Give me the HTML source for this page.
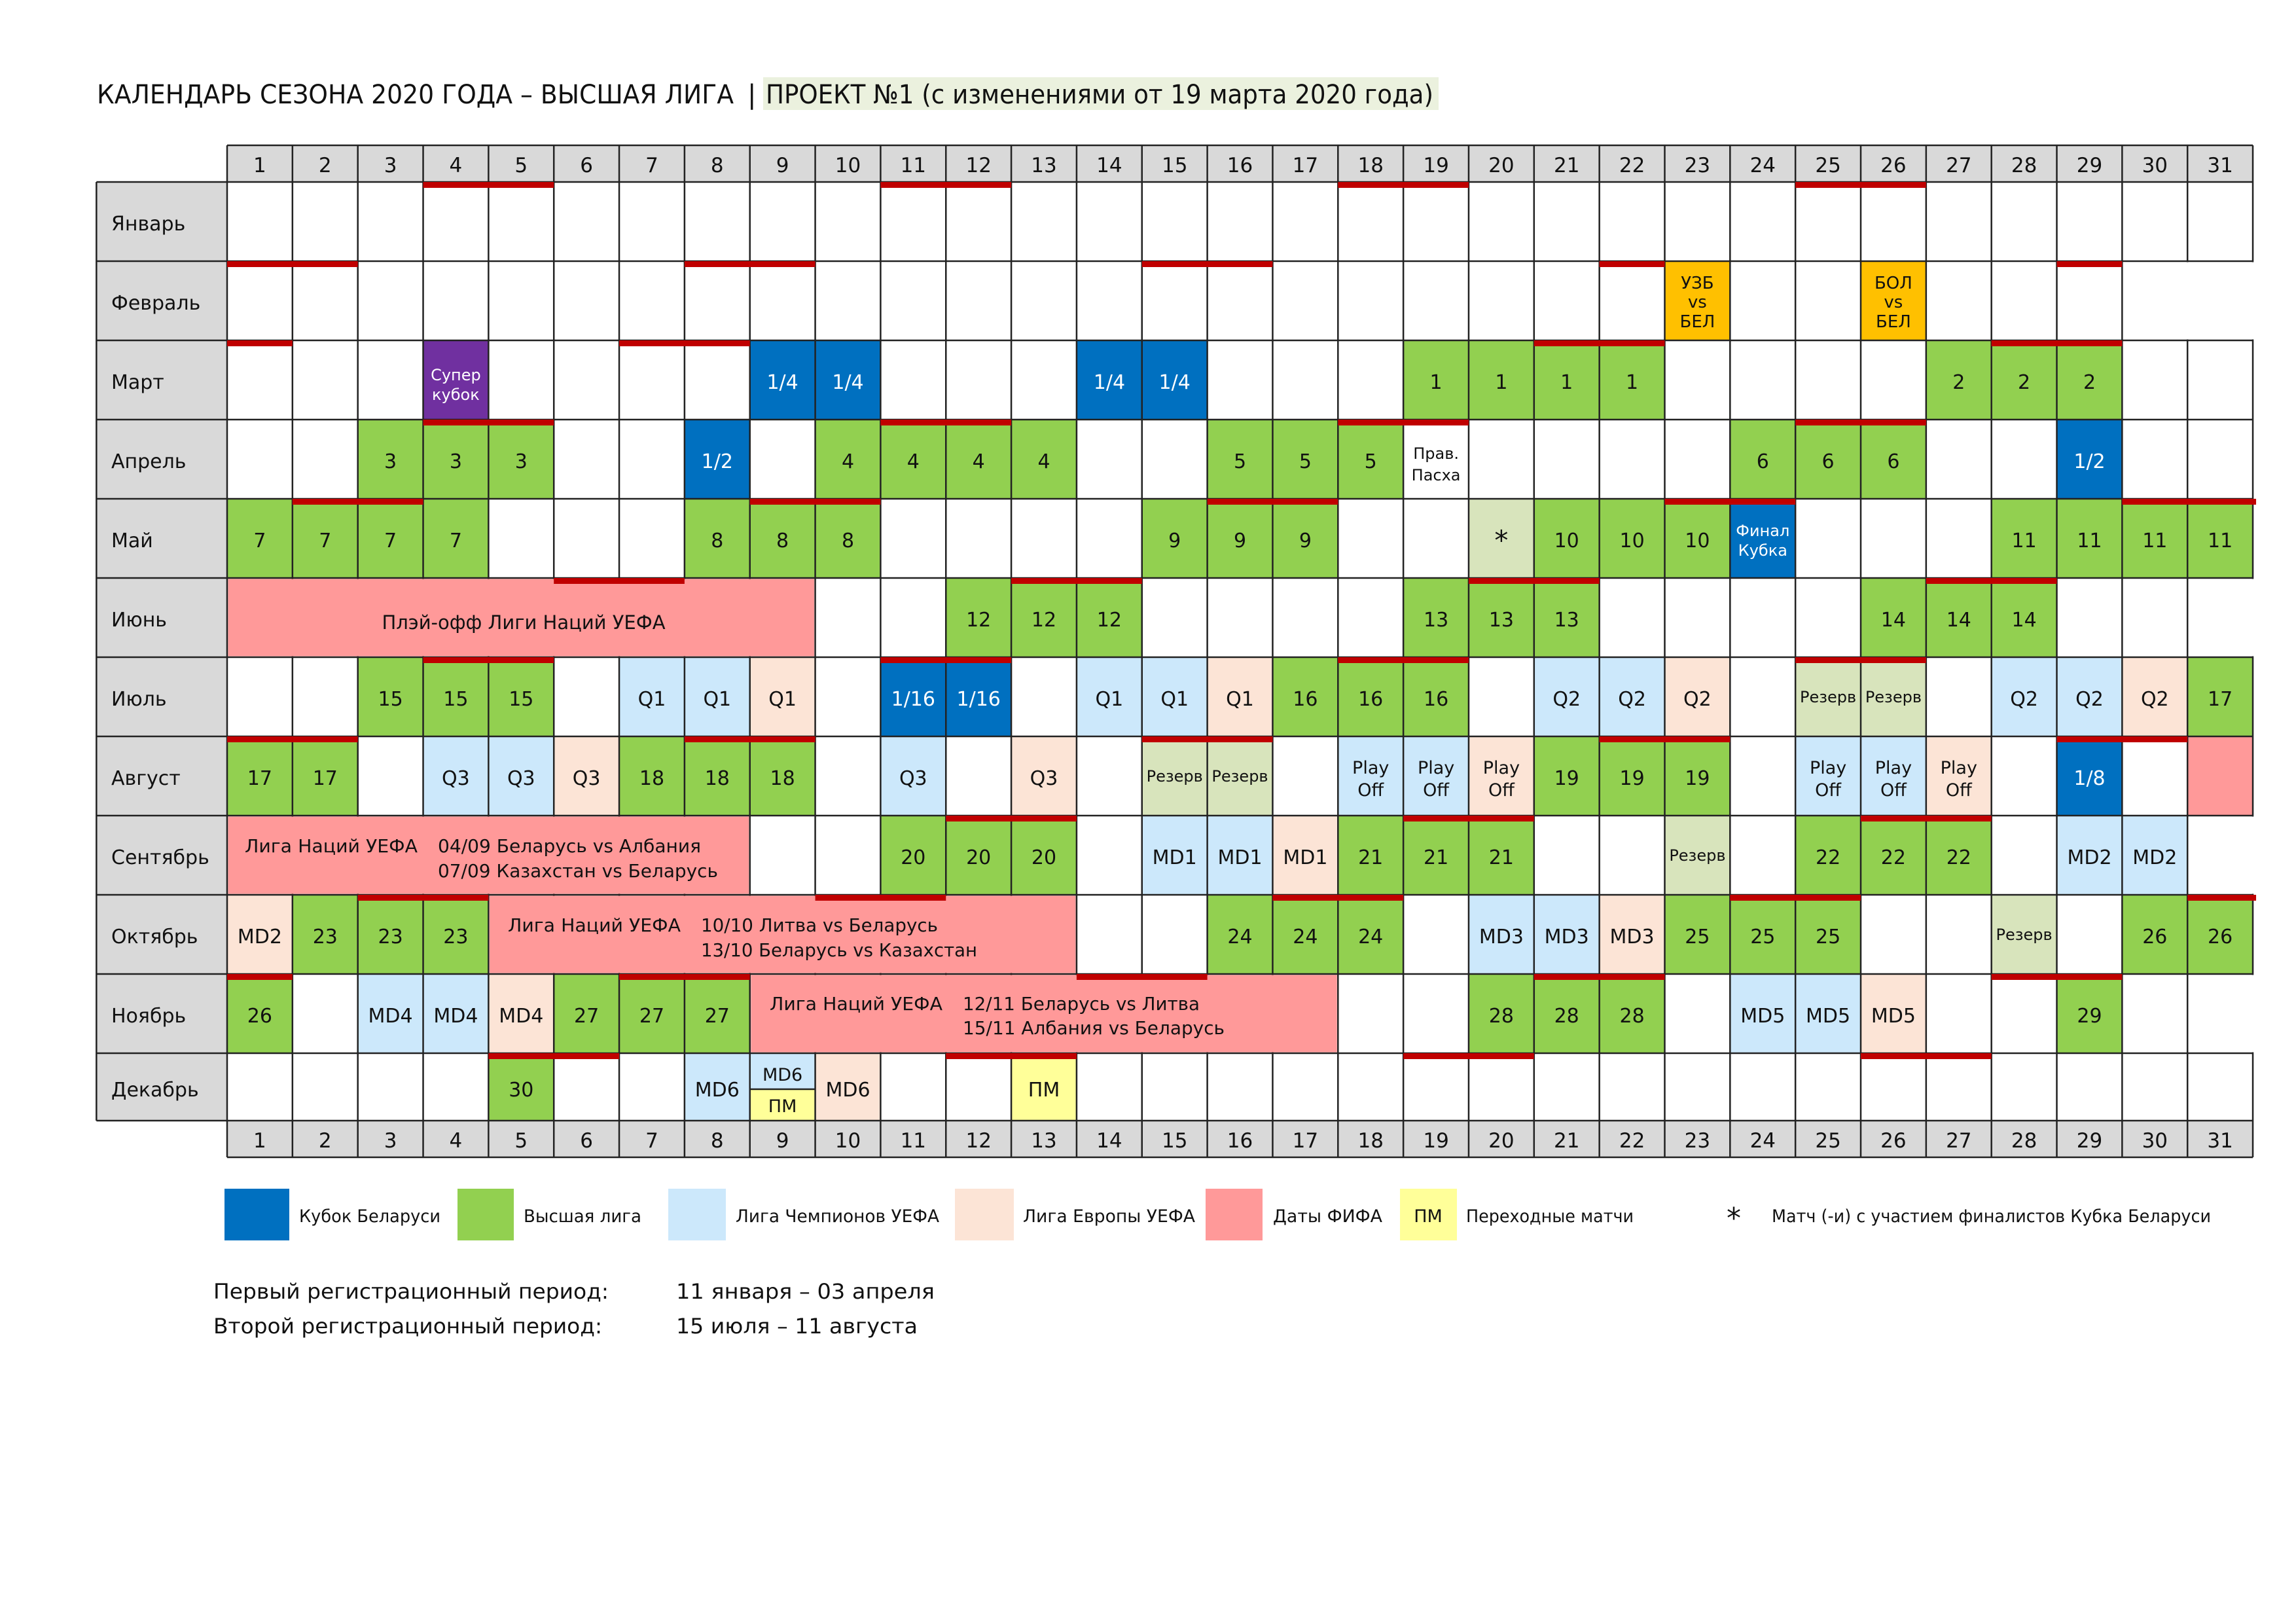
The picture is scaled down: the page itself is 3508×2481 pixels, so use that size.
<!DOCTYPE html>
<html><head><meta charset="utf-8">
<style>
html,body{margin:0;padding:0;background:#fff;}
svg{display:block;}
text{font-family:"DejaVu Sans","Liberation Sans",sans-serif;fill:#111;}
.c{font-size:30px;text-anchor:middle;}
.w{fill:#fff;}
.h{font-size:31px;text-anchor:middle;}
.m{font-size:30px;}
.s{font-size:24px;text-anchor:middle;}
.p{font-size:27px;text-anchor:middle;}
.n{font-size:28px;}
.lg{font-size:27px;}
.G{fill:#92D050}.B{fill:#0070C0}.L{fill:#CCE8FB}.P{fill:#FCE4D6}.K{fill:#FF9999}.Y{fill:#FFFF99}.O{fill:#FFC000}.V{fill:#7030A0}.R{fill:#D8E4BC}.Wt{fill:#fff}.rb{fill:#C00000}
</style></head>
<body>
<svg width="3508" height="2481" viewBox="0 0 3508 2481" xmlns="http://www.w3.org/2000/svg">
<rect width="3508" height="2481" fill="#fff"/>
<!-- title -->
<rect x="1166" y="118" width="1032" height="50" fill="#EBF1DE"/>
<text x="148" y="158" font-size="40" textLength="973" lengthAdjust="spacingAndGlyphs">КАЛЕНДАРЬ СЕЗОНА 2020 ГОДА – ВЫСШАЯ ЛИГА</text>
<text x="1142" y="158" font-size="40">|</text>
<text x="1170" y="158" font-size="40" textLength="1020" lengthAdjust="spacingAndGlyphs">ПРОЕКТ №1 (с изменениями от 19 марта 2020 года)</text>

<!-- grey header areas -->
<rect x="347" y="222" width="3095" height="56" fill="#D9D9D9"/>
<rect x="347" y="1712" width="3095" height="56" fill="#D9D9D9"/>
<rect x="147" y="278" width="200" height="1434" fill="#D9D9D9"/>

<g transform="translate(347 0) scale(99.84 1)">
<!-- Feb -->
<rect class="O" x="22" y="399" width="1" height="121"/>
<rect class="O" x="25" y="399" width="1" height="121"/>
<!-- Mar -->
<rect class="V" x="3" y="520" width="1" height="121"/>
<rect class="B" x="8" y="520" width="2" height="121"/>
<rect class="B" x="13" y="520" width="2" height="121"/>
<rect class="G" x="18" y="520" width="4" height="121"/>
<rect class="G" x="26" y="520" width="3" height="121"/>
<!-- Apr -->
<rect class="G" x="2" y="641" width="3" height="121"/>
<rect class="B" x="7" y="641" width="1" height="121"/>
<rect class="G" x="9" y="641" width="4" height="121"/>
<rect class="G" x="15" y="641" width="3" height="121"/>
<rect class="G" x="23" y="641" width="3" height="121"/>
<rect class="B" x="28" y="641" width="1" height="121"/>
<!-- May -->
<rect class="G" x="0" y="762" width="4" height="121"/>
<rect class="G" x="7" y="762" width="3" height="121"/>
<rect class="G" x="14" y="762" width="3" height="121"/>
<rect class="R" x="19" y="762" width="1" height="121"/>
<rect class="G" x="20" y="762" width="3" height="121"/>
<rect class="B" x="23" y="762" width="1" height="121"/>
<rect class="G" x="27" y="762" width="4" height="121"/>
<!-- Jun -->
<rect class="G" x="11" y="883" width="3" height="121"/>
<rect class="G" x="18" y="883" width="3" height="121"/>
<rect class="G" x="25" y="883" width="3" height="121"/>
<!-- Jul -->
<rect class="G" x="2" y="1004" width="3" height="121"/>
<rect class="L" x="6" y="1004" width="2" height="121"/>
<rect class="P" x="8" y="1004" width="1" height="121"/>
<rect class="B" x="10" y="1004" width="2" height="121"/>
<rect class="L" x="13" y="1004" width="2" height="121"/>
<rect class="P" x="15" y="1004" width="1" height="121"/>
<rect class="G" x="16" y="1004" width="3" height="121"/>
<rect class="L" x="20" y="1004" width="2" height="121"/>
<rect class="P" x="22" y="1004" width="1" height="121"/>
<rect class="R" x="24" y="1004" width="2" height="121"/>
<rect class="L" x="27" y="1004" width="2" height="121"/>
<rect class="P" x="29" y="1004" width="1" height="121"/>
<rect class="G" x="30" y="1004" width="1" height="121"/>
<!-- Aug -->
<rect class="G" x="0" y="1125" width="2" height="121"/>
<rect class="L" x="3" y="1125" width="2" height="121"/>
<rect class="P" x="5" y="1125" width="1" height="121"/>
<rect class="G" x="6" y="1125" width="3" height="121"/>
<rect class="L" x="10" y="1125" width="1" height="121"/>
<rect class="P" x="12" y="1125" width="1" height="121"/>
<rect class="R" x="14" y="1125" width="2" height="121"/>
<rect class="L" x="17" y="1125" width="2" height="121"/>
<rect class="P" x="19" y="1125" width="1" height="121"/>
<rect class="G" x="20" y="1125" width="3" height="121"/>
<rect class="L" x="24" y="1125" width="2" height="121"/>
<rect class="P" x="26" y="1125" width="1" height="121"/>
<rect class="B" x="28" y="1125" width="1" height="121"/>
<rect class="K" x="30" y="1125" width="1" height="121"/>
<!-- Sep -->
<rect class="G" x="10" y="1246" width="3" height="121"/>
<rect class="L" x="14" y="1246" width="2" height="121"/>
<rect class="P" x="16" y="1246" width="1" height="121"/>
<rect class="G" x="17" y="1246" width="3" height="121"/>
<rect class="R" x="22" y="1246" width="1" height="121"/>
<rect class="G" x="24" y="1246" width="3" height="121"/>
<rect class="L" x="28" y="1246" width="2" height="121"/>
<!-- Oct -->
<rect class="P" x="0" y="1367" width="1" height="121"/>
<rect class="G" x="1" y="1367" width="3" height="121"/>
<rect class="G" x="15" y="1367" width="3" height="121"/>
<rect class="L" x="19" y="1367" width="2" height="121"/>
<rect class="P" x="21" y="1367" width="1" height="121"/>
<rect class="G" x="22" y="1367" width="3" height="121"/>
<rect class="R" x="27" y="1367" width="1" height="121"/>
<rect class="G" x="29" y="1367" width="2" height="121"/>
<!-- Nov -->
<rect class="G" x="0" y="1488" width="1" height="121"/>
<rect class="L" x="2" y="1488" width="2" height="121"/>
<rect class="P" x="4" y="1488" width="1" height="121"/>
<rect class="G" x="5" y="1488" width="3" height="121"/>
<rect class="G" x="19" y="1488" width="3" height="121"/>
<rect class="L" x="23" y="1488" width="2" height="121"/>
<rect class="P" x="25" y="1488" width="1" height="121"/>
<rect class="G" x="28" y="1488" width="1" height="121"/>
<!-- Dec -->
<rect class="G" x="4" y="1609" width="1" height="103"/>
<rect class="L" x="7" y="1609" width="1" height="103"/>
<rect class="L" x="8" y="1609" width="1" height="55"/>
<rect class="Y" x="8" y="1664" width="1" height="48"/>
<rect class="P" x="9" y="1609" width="1" height="103"/>
<rect class="Y" x="12" y="1609" width="1" height="103"/>

<!-- grid lines -->
<path vector-effect="non-scaling-stroke" stroke="#222" stroke-width="2.5" fill="none" d="M0 222V1768M1 222V1768M2 222V1768M3 222V1768M4 222V1768M5 222V1768M6 222V1768M7 222V1768M8 222V1768M9 222V1768M10 222V1768M11 222V1768M12 222V1768M13 222V1768M14 222V1768M15 222V1768M16 222V1768M17 222V1768M18 222V1768M19 222V1768M20 222V1768M21 222V1768M22 222V1768M23 222V1768M24 222V1768M25 222V1768M26 222V1768M27 222V1768M28 222V1768M29 222V1768M30 222V1768M31 222V1768M-2 278V1712M0 222H31M-2 278H31M-2 399H31M-2 520H31M-2 641H31M-2 762H31M-2 883H31M-2 1004H31M-2 1125H31M-2 1246H31M-2 1367H31M-2 1488H31M-2 1609H31M-2 1712H31M0 1768H31M8 1664H9"/>

<!-- merged pink overlays -->
<rect class="K" x="0.015" y="884.5" width="8.97" height="118"/>
<rect class="K" x="0.015" y="1247.5" width="7.97" height="118"/>
<rect class="K" x="4.015" y="1368.5" width="8.97" height="118"/>
<rect class="K" x="8.015" y="1489.5" width="8.97" height="118"/>
<!-- missing days -->
<rect class="Wt" x="29.015" y="400.5" width="2.1" height="118"/>
<rect class="Wt" x="30.015" y="884.5" width="1.1" height="118"/>
<rect class="Wt" x="30.015" y="1247.5" width="1.1" height="118"/>
<rect class="Wt" x="30.015" y="1489.5" width="1.1" height="118"/>

<!-- weekend red bars -->
<g class="rb">
<rect x="3" y="278" width="2" height="9"/><rect x="10" y="278" width="2" height="9"/><rect x="17" y="278" width="2" height="9"/><rect x="24" y="278" width="2" height="9"/>
<rect x="0" y="399" width="2" height="9"/><rect x="7" y="399" width="2" height="9"/><rect x="14" y="399" width="2" height="9"/><rect x="21" y="399" width="1" height="9"/><rect x="28" y="399" width="1" height="9"/>
<rect x="0" y="520" width="1" height="9"/><rect x="6" y="520" width="2" height="9"/><rect x="20" y="520" width="2" height="9"/><rect x="27" y="520" width="2" height="9"/>
<rect x="3" y="641" width="2" height="9"/><rect x="10" y="641" width="2" height="9"/><rect x="17" y="641" width="2" height="9"/><rect x="24" y="641" width="2" height="9"/>
<rect x="1" y="762" width="2" height="9"/><rect x="8" y="762" width="2" height="9"/><rect x="15" y="762" width="2" height="9"/><rect x="22" y="762" width="2" height="9"/><rect x="29" y="762" width="2.05" height="9"/>
<rect x="5" y="883" width="2" height="9"/><rect x="12" y="883" width="2" height="9"/><rect x="19" y="883" width="2" height="9"/><rect x="26" y="883" width="2" height="9"/>
<rect x="3" y="1004" width="2" height="9"/><rect x="10" y="1004" width="2" height="9"/><rect x="17" y="1004" width="2" height="9"/><rect x="24" y="1004" width="2" height="9"/>
<rect x="0" y="1125" width="2" height="9"/><rect x="7" y="1125" width="2" height="9"/><rect x="14" y="1125" width="2" height="9"/><rect x="21" y="1125" width="2" height="9"/><rect x="28" y="1125" width="2" height="9"/>
<rect x="11" y="1246" width="2" height="9"/><rect x="18" y="1246" width="2" height="9"/><rect x="25" y="1246" width="2" height="9"/>
<rect x="2" y="1367" width="2" height="9"/><rect x="9" y="1367" width="2" height="9"/><rect x="16" y="1367" width="2" height="9"/><rect x="23" y="1367" width="2" height="9"/><rect x="30" y="1367" width="1.05" height="9"/>
<rect x="0" y="1488" width="1" height="9"/><rect x="6" y="1488" width="2" height="9"/><rect x="13" y="1488" width="2" height="9"/><rect x="20" y="1488" width="2" height="9"/><rect x="27" y="1488" width="2" height="9"/>
<rect x="4" y="1609" width="2" height="9"/><rect x="11" y="1609" width="2" height="9"/><rect x="18" y="1609" width="2" height="9"/><rect x="25" y="1609" width="2" height="9"/>
</g>
</g>

<!-- header numbers -->
<g class="h">
<text x="396.9" y="263">1</text><text x="496.8" y="263">2</text><text x="596.6" y="263">3</text><text x="696.4" y="263">4</text><text x="796.3" y="263">5</text><text x="896.1" y="263">6</text><text x="996.0" y="263">7</text><text x="1095.8" y="263">8</text><text x="1195.6" y="263">9</text><text x="1295.5" y="263">10</text><text x="1395.3" y="263">11</text><text x="1495.2" y="263">12</text><text x="1595.0" y="263">13</text><text x="1694.9" y="263">14</text><text x="1794.7" y="263">15</text><text x="1894.5" y="263">16</text><text x="1994.4" y="263">17</text><text x="2094.2" y="263">18</text><text x="2194.1" y="263">19</text><text x="2293.9" y="263">20</text><text x="2393.7" y="263">21</text><text x="2493.6" y="263">22</text><text x="2593.4" y="263">23</text><text x="2693.3" y="263">24</text><text x="2793.1" y="263">25</text><text x="2892.9" y="263">26</text><text x="2992.8" y="263">27</text><text x="3092.6" y="263">28</text><text x="3192.5" y="263">29</text><text x="3292.3" y="263">30</text><text x="3392.1" y="263">31</text>
<text x="396.9" y="1753">1</text><text x="496.8" y="1753">2</text><text x="596.6" y="1753">3</text><text x="696.4" y="1753">4</text><text x="796.3" y="1753">5</text><text x="896.1" y="1753">6</text><text x="996.0" y="1753">7</text><text x="1095.8" y="1753">8</text><text x="1195.6" y="1753">9</text><text x="1295.5" y="1753">10</text><text x="1395.3" y="1753">11</text><text x="1495.2" y="1753">12</text><text x="1595.0" y="1753">13</text><text x="1694.9" y="1753">14</text><text x="1794.7" y="1753">15</text><text x="1894.5" y="1753">16</text><text x="1994.4" y="1753">17</text><text x="2094.2" y="1753">18</text><text x="2194.1" y="1753">19</text><text x="2293.9" y="1753">20</text><text x="2393.7" y="1753">21</text><text x="2493.6" y="1753">22</text><text x="2593.4" y="1753">23</text><text x="2693.3" y="1753">24</text><text x="2793.1" y="1753">25</text><text x="2892.9" y="1753">26</text><text x="2992.8" y="1753">27</text><text x="3092.6" y="1753">28</text><text x="3192.5" y="1753">29</text><text x="3292.3" y="1753">30</text><text x="3392.1" y="1753">31</text>
</g>

<!-- month labels -->
<g class="m">
<text x="170" y="352">Январь</text>
<text x="170" y="473">Февраль</text>
<text x="170" y="594">Март</text>
<text x="170" y="715">Апрель</text>
<text x="170" y="836">Май</text>
<text x="170" y="957">Июнь</text>
<text x="170" y="1078">Июль</text>
<text x="170" y="1199">Август</text>
<text x="170" y="1320">Сентябрь</text>
<text x="170" y="1441">Октябрь</text>
<text x="170" y="1562">Ноябрь</text>
<text x="170" y="1675">Декабрь</text>
</g>

<!-- Feb -->
<g font-size="26" text-anchor="middle">
<text x="2593.4" y="441">УЗБ</text><text x="2593.4" y="470">vs</text><text x="2593.4" y="500">БЕЛ</text>
<text x="2892.9" y="441">БОЛ</text><text x="2892.9" y="470">vs</text><text x="2892.9" y="500">БЕЛ</text>
</g>
<!-- Mar -->
<text class="s w" x="696.4" y="581" font-size="22">Супер</text><text class="s w" x="696.4" y="611">кубок</text>
<g class="c">
<text class="w" x="1195.6" y="594">1/4</text><text class="w" x="1295.5" y="594">1/4</text><text class="w" x="1694.9" y="594">1/4</text><text class="w" x="1794.7" y="594">1/4</text>
<text x="2194.1" y="594">1</text><text x="2293.9" y="594">1</text><text x="2393.7" y="594">1</text><text x="2493.6" y="594">1</text>
<text x="2992.8" y="594">2</text><text x="3092.6" y="594">2</text><text x="3192.5" y="594">2</text>
<!-- Apr -->
<text x="596.6" y="715">3</text><text x="696.4" y="715">3</text><text x="796.3" y="715">3</text>
<text class="w" x="1095.8" y="715">1/2</text>
<text x="1295.5" y="715">4</text><text x="1395.3" y="715">4</text><text x="1495.2" y="715">4</text><text x="1595.0" y="715">4</text>
<text x="1894.5" y="715">5</text><text x="1994.4" y="715">5</text><text x="2094.2" y="715">5</text>
<text x="2693.3" y="715">6</text><text x="2793.1" y="715">6</text><text x="2892.9" y="715">6</text>
<text class="w" x="3192.5" y="715">1/2</text>
<!-- May -->
<text x="396.9" y="836">7</text><text x="496.8" y="836">7</text><text x="596.6" y="836">7</text><text x="696.4" y="836">7</text>
<text x="1095.8" y="836">8</text><text x="1195.6" y="836">8</text><text x="1295.5" y="836">8</text>
<text x="1794.7" y="836">9</text><text x="1894.5" y="836">9</text><text x="1994.4" y="836">9</text>
<text x="2393.7" y="836">10</text><text x="2493.6" y="836">10</text><text x="2593.4" y="836">10</text>
<text x="3092.6" y="836">11</text><text x="3192.5" y="836">11</text><text x="3292.3" y="836">11</text><text x="3392.1" y="836">11</text>
<!-- Jun -->
<text x="1495.2" y="957">12</text><text x="1595.0" y="957">12</text><text x="1694.9" y="957">12</text>
<text x="2194.1" y="957">13</text><text x="2293.9" y="957">13</text><text x="2393.7" y="957">13</text>
<text x="2892.9" y="957">14</text><text x="2992.8" y="957">14</text><text x="3092.6" y="957">14</text>
<!-- Jul -->
<text x="596.6" y="1078">15</text><text x="696.4" y="1078">15</text><text x="796.3" y="1078">15</text>
<text x="996.0" y="1078">Q1</text><text x="1095.8" y="1078">Q1</text><text x="1195.6" y="1078">Q1</text>
<text class="w" x="1395.3" y="1078">1/16</text><text class="w" x="1495.2" y="1078">1/16</text>
<text x="1694.9" y="1078">Q1</text><text x="1794.7" y="1078">Q1</text><text x="1894.5" y="1078">Q1</text>
<text x="1994.4" y="1078">16</text><text x="2094.2" y="1078">16</text><text x="2194.1" y="1078">16</text>
<text x="2393.7" y="1078">Q2</text><text x="2493.6" y="1078">Q2</text><text x="2593.4" y="1078">Q2</text>
<text x="3092.6" y="1078">Q2</text><text x="3192.5" y="1078">Q2</text><text x="3292.3" y="1078">Q2</text>
<text x="3392.1" y="1078">17</text>
<!-- Aug -->
<text x="396.9" y="1199">17</text><text x="496.8" y="1199">17</text>
<text x="696.4" y="1199">Q3</text><text x="796.3" y="1199">Q3</text><text x="896.1" y="1199">Q3</text>
<text x="996.0" y="1199">18</text><text x="1095.8" y="1199">18</text><text x="1195.6" y="1199">18</text>
<text x="1395.3" y="1199">Q3</text><text x="1595.0" y="1199">Q3</text>
<text x="2393.7" y="1199">19</text><text x="2493.6" y="1199">19</text><text x="2593.4" y="1199">19</text>
<text class="w" x="3192.5" y="1199">1/8</text>
<!-- Sep -->
<text x="1395.3" y="1320">20</text><text x="1495.2" y="1320">20</text><text x="1595.0" y="1320">20</text>
<text x="1794.7" y="1320">MD1</text><text x="1894.5" y="1320">MD1</text><text x="1994.4" y="1320">MD1</text>
<text x="2094.2" y="1320">21</text><text x="2194.1" y="1320">21</text><text x="2293.9" y="1320">21</text>
<text x="2793.1" y="1320">22</text><text x="2892.9" y="1320">22</text><text x="2992.8" y="1320">22</text>
<text x="3192.5" y="1320">MD2</text><text x="3292.3" y="1320">MD2</text>
<!-- Oct -->
<text x="396.9" y="1441">MD2</text>
<text x="496.8" y="1441">23</text><text x="596.6" y="1441">23</text><text x="696.4" y="1441">23</text>
<text x="1894.5" y="1441">24</text><text x="1994.4" y="1441">24</text><text x="2094.2" y="1441">24</text>
<text x="2293.9" y="1441">MD3</text><text x="2393.7" y="1441">MD3</text><text x="2493.6" y="1441">MD3</text>
<text x="2593.4" y="1441">25</text><text x="2693.3" y="1441">25</text><text x="2793.1" y="1441">25</text>
<text x="3292.3" y="1441">26</text><text x="3392.1" y="1441">26</text>
<!-- Nov -->
<text x="396.9" y="1562">26</text>
<text x="596.6" y="1562">MD4</text><text x="696.4" y="1562">MD4</text><text x="796.3" y="1562">MD4</text>
<text x="896.1" y="1562">27</text><text x="996.0" y="1562">27</text><text x="1095.8" y="1562">27</text>
<text x="2293.9" y="1562">28</text><text x="2393.7" y="1562">28</text><text x="2493.6" y="1562">28</text>
<text x="2693.3" y="1562">MD5</text><text x="2793.1" y="1562">MD5</text><text x="2892.9" y="1562">MD5</text>
<text x="3192.5" y="1562">29</text>
<!-- Dec -->
<text x="796.3" y="1675">30</text>
<text x="1095.8" y="1675">MD6</text>
<text x="1295.5" y="1675">MD6</text>
<text x="1595.0" y="1675">ПМ</text>
</g>
<text x="1195.6" y="1651" font-size="27" text-anchor="middle">MD6</text>
<text x="1195.6" y="1699" font-size="27" text-anchor="middle">ПМ</text>

<!-- special small texts -->
<text x="2293.9" y="840" font-size="42" text-anchor="middle">*</text>
<text class="s" x="2194.1" y="701">Прав.</text><text class="s" x="2194.1" y="734">Пасха</text>
<text class="s w" x="2693.3" y="819" font-size="22">Финал</text><text class="s w" x="2693.3" y="849">Кубка</text>
<g class="s">
<text x="2793.1" y="1073">Резерв</text><text x="2892.9" y="1073">Резерв</text>
<text x="1794.7" y="1194">Резерв</text><text x="1894.5" y="1194">Резерв</text>
<text x="2593.4" y="1315">Резерв</text>
<text x="3092.6" y="1436">Резерв</text>
</g>
<g class="p">
<text x="2094.2" y="1182">Play</text><text x="2094.2" y="1216">Off</text>
<text x="2194.1" y="1182">Play</text><text x="2194.1" y="1216">Off</text>
<text x="2293.9" y="1182">Play</text><text x="2293.9" y="1216">Off</text>
<text x="2793.1" y="1182">Play</text><text x="2793.1" y="1216">Off</text>
<text x="2892.9" y="1182">Play</text><text x="2892.9" y="1216">Off</text>
<text x="2992.8" y="1182">Play</text><text x="2992.8" y="1216">Off</text>
</g>

<!-- merged texts -->
<text x="800" y="961" font-size="29" text-anchor="middle">Плэй-офф Лиги Наций УЕФА</text>
<g class="n">
<text x="374" y="1302" textLength="264" lengthAdjust="spacingAndGlyphs">Лига Наций УЕФА</text>
<text x="669" y="1302" textLength="402" lengthAdjust="spacingAndGlyphs">04/09 Беларусь vs Албания</text>
<text x="669" y="1340" textLength="428" lengthAdjust="spacingAndGlyphs">07/09 Казахстан vs Беларусь</text>
<text x="776" y="1423" textLength="264" lengthAdjust="spacingAndGlyphs">Лига Наций УЕФА</text>
<text x="1071" y="1423" textLength="362" lengthAdjust="spacingAndGlyphs">10/10 Литва vs Беларусь</text>
<text x="1071" y="1461" textLength="422" lengthAdjust="spacingAndGlyphs">13/10 Беларусь vs Казахстан</text>
<text x="1176" y="1543" textLength="264" lengthAdjust="spacingAndGlyphs">Лига Наций УЕФА</text>
<text x="1471" y="1543" textLength="362" lengthAdjust="spacingAndGlyphs">12/11 Беларусь vs Литва</text>
<text x="1471" y="1580" textLength="400" lengthAdjust="spacingAndGlyphs">15/11 Албания vs Беларусь</text>
</g>

<!-- legend -->
<rect class="B" x="343" y="1816" width="99" height="79"/>
<rect class="G" x="699" y="1816" width="86" height="79"/>
<rect class="L" x="1021" y="1816" width="88" height="79"/>
<rect class="P" x="1459" y="1816" width="90" height="79"/>
<rect class="K" x="1842" y="1816" width="87" height="79"/>
<rect class="Y" x="2139" y="1816" width="87" height="79"/>
<g class="lg">
<text x="457" y="1867" textLength="216" lengthAdjust="spacingAndGlyphs">Кубок Беларуси</text>
<text x="800" y="1867" textLength="180" lengthAdjust="spacingAndGlyphs">Высшая лига</text>
<text x="1124" y="1867" textLength="311" lengthAdjust="spacingAndGlyphs">Лига Чемпионов УЕФА</text>
<text x="1563" y="1867" textLength="263" lengthAdjust="spacingAndGlyphs">Лига Европы УЕФА</text>
<text x="1945" y="1867" textLength="167" lengthAdjust="spacingAndGlyphs">Даты ФИФА</text>
<text x="2182" y="1867" text-anchor="middle">ПМ</text>
<text x="2240" y="1867" textLength="256" lengthAdjust="spacingAndGlyphs">Переходные матчи</text>
<text x="2707" y="1867" textLength="671" lengthAdjust="spacingAndGlyphs">Матч (-и) с участием финалистов Кубка Беларуси</text>
</g>
<text x="2649" y="1876" font-size="44" text-anchor="middle">*</text>

<!-- registration -->
<g font-size="32">
<text x="326" y="1984" textLength="604" lengthAdjust="spacingAndGlyphs">Первый регистрационный период:</text>
<text x="1033" y="1984" textLength="395" lengthAdjust="spacingAndGlyphs">11 января – 03 апреля</text>
<text x="326" y="2037" textLength="594" lengthAdjust="spacingAndGlyphs">Второй регистрационный период:</text>
<text x="1033" y="2037" textLength="369" lengthAdjust="spacingAndGlyphs">15 июля – 11 августа</text>
</g>
</svg>
</body></html>
